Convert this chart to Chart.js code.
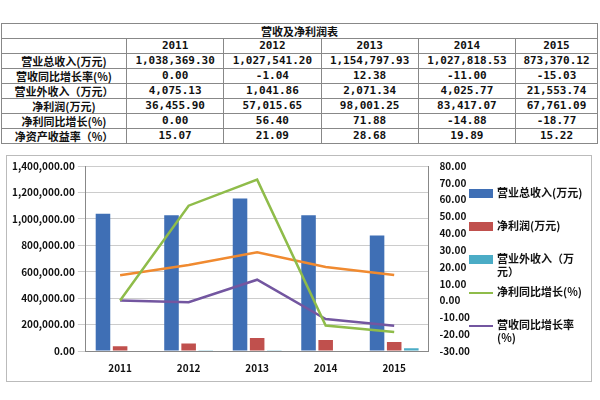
<!DOCTYPE html>
<html><head><meta charset="utf-8">
<script src="https://cdn.jsdelivr.net/npm/chart.js@4"></script>
<style>
body{margin:0;width:600px;height:400px;background:#fff;font-family:"Noto Sans CJK SC",sans-serif;overflow:hidden}
table{position:absolute;left:1px;top:23px;width:597px;border-collapse:collapse;font-size:11px;font-weight:bold;color:#111}
td{border:1px solid #888;height:14px;padding:0 2px;text-align:center;line-height:14px;font-family:"Noto Sans CJK SC","DejaVu Sans Mono",monospace}
td.n{font-family:"DejaVu Sans Mono",monospace;font-size:11px}
#box{position:absolute;left:6px;top:155px;width:584px;height:225px;border:1px solid #bbb}
#cw{position:absolute;left:0;top:0;width:470px;height:225px}
#lg{position:absolute;left:462px;top:30px;width:120px;font-size:11px;font-weight:bold;color:#111}
#lg div{display:flex;align-items:flex-start;height:33px;line-height:13px}
#lg span.s{flex:none;width:24px;margin-right:4px;margin-top:3px}
</style></head><body>
<table id="t"></table>
<div id="box"><div id="cw"><canvas id="c"></canvas></div><div id="lg"></div></div>
<script>
const years=['2011','2012','2013','2014','2015'];
const revenue=[1038369.30,1027541.20,1154797.93,1027818.53,873370.12];
const revGrowth=[0.00,-1.04,12.38,-11.00,-15.03];
const otherIncome=[4075.13,1041.86,2071.34,4025.77,21553.74];
const netProfit=[36455.90,57015.65,98001.25,83417.07,67761.09];
const profitGrowth=[0.00,56.40,71.88,-14.88,-18.77];
const roe=[15.07,21.09,28.68,19.89,15.22];
const fmt=v=>v.toLocaleString('en-US',{minimumFractionDigits:2,maximumFractionDigits:2});
const rows=[['营业总收入(万元)',revenue],['营收同比增长率(%)',revGrowth],['营业外收入（万元）',otherIncome],['净利润(万元)',netProfit],['净利同比增长(%)',profitGrowth],['净资产收益率（%）',roe]];
let h='<tr><td colspan="6">营收及净利润表</td></tr><tr><td style="width:120px"></td>'+years.map(y=>'<td class="n">'+y+'</td>').join('')+'</tr>';
rows.forEach(r=>{h+='<tr><td>'+r[0]+'</td>'+r[1].map(v=>'<td class="n">'+fmt(v)+'</td>').join('')+'</tr>';});
document.getElementById('t').innerHTML=h;
Chart.defaults.font.family='"Noto Sans CJK SC",sans-serif';
Chart.defaults.font.size=10;Chart.defaults.color='#111';
const ds=[
{type:'bar',label:'营业总收入(万元)',data:revenue,backgroundColor:'#3f6fb5',yAxisID:'y',order:2},
{type:'bar',label:'净利润(万元)',data:netProfit,backgroundColor:'#c0504d',yAxisID:'y',order:2},
{type:'bar',label:'营业外收入（万元）',data:otherIncome,backgroundColor:'#4bacc6',yAxisID:'y',order:2},
{type:'line',label:'净利同比增长(%)',data:profitGrowth,borderColor:'#8fbc4a',borderWidth:2.5,pointRadius:0,yAxisID:'y1',order:1},
{type:'line',label:'营收同比增长率(%)',data:revGrowth,borderColor:'#7356a0',borderWidth:2.5,pointRadius:0,yAxisID:'y1',order:1},
{type:'line',label:'净资产收益率(%)',data:roe,borderColor:'#f08a30',borderWidth:2.5,pointRadius:0,yAxisID:'y1',order:1}];
document.getElementById('lg').innerHTML=ds.slice(0,5).map(d=>'<div><span class="s" style="'+(d.type==='bar'?'height:9px;background:'+d.backgroundColor:'height:0;margin-top:7px;border-top:2.5px solid '+d.borderColor)+'"></span><span>'+d.label+'</span></div>').join('');
new Chart(document.getElementById('c'),{
data:{labels:years,datasets:ds},
options:{responsive:true,maintainAspectRatio:false,animation:false,
layout:{padding:{top:10,right:4,bottom:4,left:2}},
plugins:{legend:{display:false},tooltip:{enabled:false}},
datasets:{bar:{barPercentage:0.85,categoryPercentage:0.75}},
scales:{
x:{grid:{display:false},border:{color:'#888'},ticks:{font:{weight:'bold'}}},
y:{min:0,max:1400000,ticks:{stepSize:200000,callback:v=>fmt(v),font:{weight:'bold'}},grid:{color:'#ccc'},border:{color:'#888'}},
y1:{position:'right',min:-30,max:80,ticks:{stepSize:10,callback:v=>v.toFixed(2),font:{weight:'bold'}},grid:{display:false},border:{color:'#888'}}
}}});
</script></body></html>
